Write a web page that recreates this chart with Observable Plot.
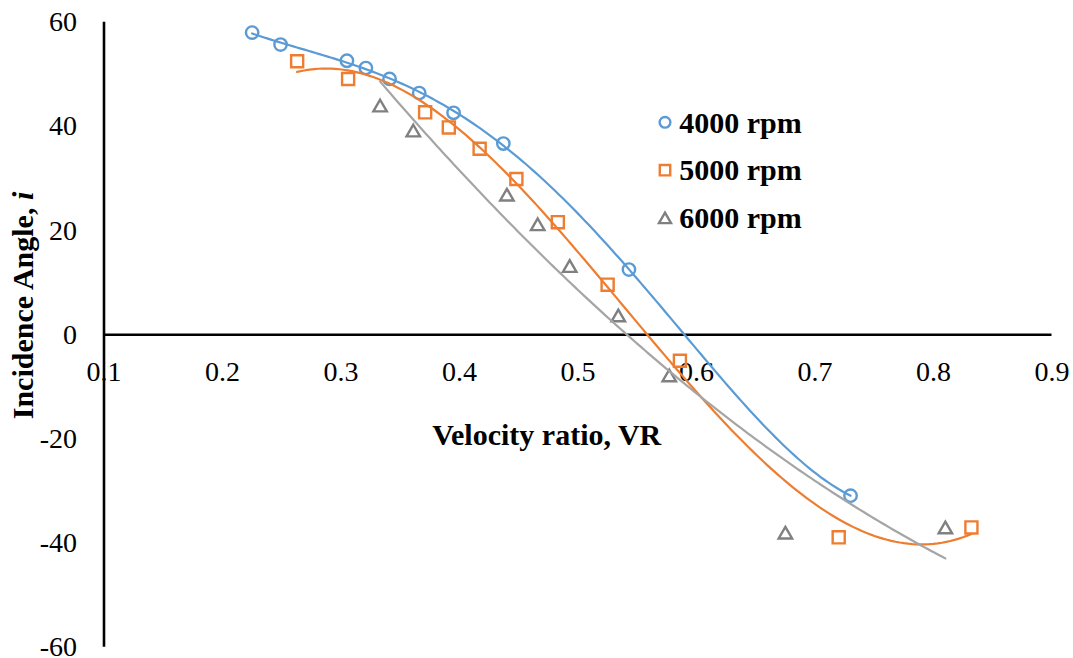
<!DOCTYPE html>
<html>
<head>
<meta charset="utf-8">
<script src="https://cdn.jsdelivr.net/npm/d3@7"></script>
<script src="https://cdn.jsdelivr.net/npm/@observablehq/plot@0.6"></script>
<style>
  html, body { margin: 0; padding: 0; background: #fff; overflow: hidden; }
  #chart svg { display: block; }
</style>
</head>
<body>
<div id="chart"></div>
<script>
// Measured incidence angle against velocity ratio at three rotor speeds
const seriesNames = ["4000 rpm", "5000 rpm", "6000 rpm"];

const vr4000    = [0.225, 0.249, 0.305, 0.321, 0.341, 0.366, 0.395, 0.437, 0.543, 0.730];
const angle4000 = [58.0, 55.7, 52.6, 51.2, 49.1, 46.4, 42.6, 36.7, 12.5, -30.9];

const vr5000    = [0.263, 0.306, 0.371, 0.391, 0.417, 0.448, 0.483, 0.525, 0.586, 0.720, 0.832];
const angle5000 = [52.5, 49.1, 42.7, 39.8, 35.7, 29.9, 21.6, 9.6, -5.0, -38.9, -37.0];

const vr6000    = [0.333, 0.361, 0.440, 0.466, 0.493, 0.534, 0.577, 0.675, 0.810];
const angle6000 = [44.0, 39.2, 26.9, 21.2, 13.2, 3.7, -7.8, -38.0, -37.0];

// Polynomial trend line order for each series
const trendOrder = [4, 3, 2];

const xTicks = [0.1, 0.2, 0.3, 0.4, 0.5, 0.6, 0.7, 0.8, 0.9];
const yTicks = [-60, -40, -20, 0, 20, 40, 60];

const SERIF = "'Liberation Serif', 'Times New Roman', Times, serif";
const colors = ["#5B9BD5", "#ED7D31", "#A5A5A5"];
const markerColors = ["#5B9BD5", "#ED7D31", "#808080"];

// Least-squares polynomial fit (normal equations, Gaussian elimination)
function polyfit(xs, ys, order) {
  const n = order + 1;
  const A = Array.from({length: n}, () => new Array(n).fill(0));
  const b = new Array(n).fill(0);
  xs.forEach((x, i) => {
    for (let j = 0; j < n; j++) {
      b[j] += ys[i] * Math.pow(x, j);
      for (let k = 0; k < n; k++) A[j][k] += Math.pow(x, j + k);
    }
  });
  for (let c = 0; c < n; c++) {
    let p = c;
    for (let r = c + 1; r < n; r++) if (Math.abs(A[r][c]) > Math.abs(A[p][c])) p = r;
    [A[c], A[p]] = [A[p], A[c]];
    [b[c], b[p]] = [b[p], b[c]];
    for (let r = c + 1; r < n; r++) {
      const f = A[r][c] / A[c][c];
      for (let k = c; k < n; k++) A[r][k] -= f * A[c][k];
      b[r] -= f * b[c];
    }
  }
  const coef = new Array(n).fill(0);
  for (let r = n - 1; r >= 0; r--) {
    let s = b[r];
    for (let k = r + 1; k < n; k++) s -= A[r][k] * coef[k];
    coef[r] = s / A[r][r];
  }
  return coef;
}

function trendLine(xs, ys, order, name) {
  const coef = polyfit(xs, ys, order);
  const [x0, x1] = d3.extent(xs);
  return d3.range(0, 161).map(i => {
    const x = x0 + (x1 - x0) * i / 160;
    return {series: name, x, y: coef.reduce((s, c, j) => s + c * Math.pow(x, j), 0)};
  });
}

const series = [[vr4000, angle4000], [vr5000, angle5000], [vr6000, angle6000]];
const points = series.map(([xs, ys], s) => xs.map((x, i) => ({series: seriesNames[s], x, y: ys[i]})));
const trends = series.map(([xs, ys], s) => trendLine(xs, ys, trendOrder[s], seriesNames[s]));

const symbols = ["circle", "square", "triangle"];
const symbolR = [6.2, 6.8, 5.0];

const chart = Plot.plot({
  width: 1073,
  height: 658,
  marginLeft: 103.5,
  marginRight: 21.5,
  marginTop: 21.7,
  marginBottom: 11.3,
  style: {fontFamily: SERIF, fontSize: "28px", color: "#000", background: "#fff", overflow: "visible"},
  x: {domain: [0.1, 0.9], axis: null},
  y: {domain: [-60, 60]},
  marks: [
    Plot.axisY({ticks: yTicks, tickSize: 0, tickPadding: 27, tickFormat: d => String(d), label: null, fontSize: 28}),
    Plot.ruleX([0.1], {y1: -60, y2: 60, stroke: "#000", strokeWidth: 2.6}),
    Plot.ruleY([0], {stroke: "#000", strokeWidth: 2.6}),
    Plot.text(xTicks, {x: d => d, y: 0, text: d => String(d), lineAnchor: "bottom", dy: 46.5, fontSize: 28, fill: "#000"}),
    ...points.map((pts, s) => Plot.dot(pts, {
      x: "x", y: "y", symbol: symbols[s], r: symbolR[s],
      fill: "none", stroke: markerColors[s], strokeWidth: 2.4,
      dy: s === 2 ? 2 : 0
    })),
    ...trends.map((tr, s) => Plot.line(tr, {x: "x", y: "y", stroke: colors[s], strokeWidth: 2.2}))
  ]
});

document.getElementById("chart").appendChild(chart);

const svg = d3.select(chart);

// Axis titles
svg.append("text")
  .attr("transform", "translate(546.7,445)")
  .attr("text-anchor", "middle")
  .attr("font-family", SERIF)
  .attr("font-size", 30)
  .attr("font-weight", "bold")
  .attr("fill", "#000")
  .text("Velocity ratio, VR");

const yTitle = svg.append("text")
  .attr("transform", "translate(33,305.5) rotate(-90)")
  .attr("text-anchor", "middle")
  .attr("font-family", SERIF)
  .attr("font-size", 30)
  .attr("font-weight", "bold")
  .attr("fill", "#000");
yTitle.append("tspan").text("Incidence Angle, ");
yTitle.append("tspan").attr("font-style", "italic").text("i");

// Legend
const legend = svg.append("g").attr("transform", "translate(665,122.3)");
const d3Symbols = [d3.symbolCircle, d3.symbolSquare, d3.symbolTriangle];
seriesNames.forEach((name, s) => {
  const g = legend.append("g").attr("transform", `translate(0,${s * 47.9})`);
  g.append("path")
    .attr("d", d3.symbol(d3Symbols[s], Math.PI * symbolR[s] * symbolR[s] * (s === 2 ? 0.8 : 0.75))())
    .attr("transform", s === 2 ? "translate(0,1.5)" : null)
    .attr("fill", "none")
    .attr("stroke", markerColors[s])
    .attr("stroke-width", 2.4);
  g.append("text")
    .attr("x", 14.3)
    .attr("dy", "0.34em")
    .attr("text-anchor", "start")
    .attr("font-family", SERIF)
    .attr("font-size", 30)
    .attr("font-weight", "bold")
    .attr("fill", "#000")
    .text(name);
});
</script>
</body>
</html>
